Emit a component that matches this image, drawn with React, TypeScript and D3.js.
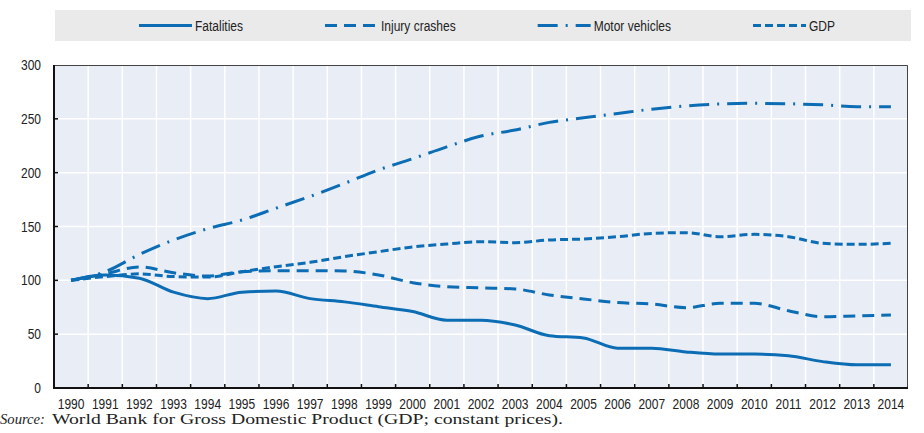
import React, { useEffect, useRef } from 'react';
import * as d3 from 'd3';

const years = d3.range(1990, 2015).map(String);

const fatalities = [100, 105, 102, 89, 83, 89, 90, 83, 80, 75.5, 71, 63, 63, 58.5, 48.6, 46.5, 37, 37, 33.5, 31.5, 31.5, 30, 24.5, 21.5, 21.5];
const injuryCrashes = [100, 106, 112.5, 107, 104, 108, 109, 109, 108.7, 105, 97.8, 94, 93, 92, 86.4, 82.7, 79.3, 78, 74.6, 78.6, 78.6, 71.8, 66.2, 67, 67.8];
const motorVehicles = [100, 108, 124, 137.5, 148, 156, 167, 178, 190, 202.5, 213, 224, 234, 239.6, 246.7, 251, 255, 259, 262, 263.8, 264.4, 264, 263, 261.3, 261.3];
const gdp = [100, 103.5, 106, 103.5, 103, 108, 112.7, 116.7, 122, 126.6, 131, 133.7, 135.9, 135, 137.5, 138.4, 140.5, 143.6, 144.3, 140.5, 142.7, 140.5, 134.4, 133.4, 134.4];

const yTicks = [0, 50, 100, 150, 200, 250, 300];

const seriesNames = ['Fatalities', 'Injury crashes', 'Motor vehicles', 'GDP'];
const seriesValues = [fatalities, injuryCrashes, motorVehicles, gdp];
const dashes = ['none', '12,7', '20,8,2,8', '8,4'];

const BLUE = '#0c6db4';
const SANS = '"Liberation Sans", Arial, sans-serif';
const SQUEEZE = 0.8; // no narrow face installed, so squeeze the regular one

export default function App() {
  const svgRef = useRef<SVGSVGElement>(null);
  const width = 924;
  const height = 433;

  useEffect(() => {
    if (!svgRef.current) return;
    const svg = d3.select(svgRef.current);
    svg.selectAll('*').remove();

    const margin = { top: 65, right: 16, bottom: 45, left: 54 };
    const innerWidth = width - margin.left - margin.right;
    const innerHeight = height - margin.top - margin.bottom;

    const x = d3.scaleBand().domain(years).range([0, innerWidth]);
    const y = d3.scaleLinear().domain([0, 300]).range([innerHeight, 0]);

    // Legend
    const legend = svg.append('g');
    legend.append('rect')
      .attr('x', 55)
      .attr('y', 10)
      .attr('width', 856)
      .attr('height', 31)
      .attr('fill', '#eaeaea');

    const items = legend.append('g');
    let cursor = 0;
    seriesNames.forEach((name, i) => {
      const item = items.append('g').attr('transform', `translate(${cursor},0)`);
      item.append('line')
        .attr('x1', 0)
        .attr('x2', 53)
        .attr('y1', 25.5)
        .attr('y2', 25.5)
        .attr('stroke', BLUE)
        .attr('stroke-width', 3)
        .attr('stroke-dasharray', dashes[i]);
      const label = item.append('text')
        .attr('transform', `translate(56,30.5) scale(${SQUEEZE},1)`)
        .style('font-family', SANS)
        .style('font-size', '15px')
        .style('fill', '#222')
        .text(name);
      const w = (label.node() as SVGTextElement).getComputedTextLength() * SQUEEZE;
      cursor += 56 + w + 82;
    });
    const groupWidth = cursor - 82;
    items.attr('transform', `translate(${487 - groupWidth / 2},0)`);

    const g = svg.append('g')
      .attr('transform', `translate(${margin.left},${margin.top})`);

    // Plot background
    g.append('rect')
      .attr('width', innerWidth)
      .attr('height', innerHeight)
      .attr('fill', '#e9edf6');

    // Grid lines
    g.append('g')
      .selectAll('line')
      .data(years.slice(1))
      .join('line')
      .attr('x1', d => x(d)!)
      .attr('x2', d => x(d)!)
      .attr('y1', 0)
      .attr('y2', innerHeight)
      .attr('stroke', '#fff')
      .attr('stroke-width', 1.5);

    g.append('g')
      .selectAll('line')
      .data(yTicks.slice(1, -1))
      .join('line')
      .attr('x1', 0)
      .attr('x2', innerWidth)
      .attr('y1', d => y(d))
      .attr('y2', d => y(d))
      .attr('stroke', '#fff')
      .attr('stroke-width', 1.5);

    // Frame (top / right)
    g.append('path')
      .attr('d', `M0,0.5H${innerWidth - 0.5}V${innerHeight}`)
      .attr('fill', 'none')
      .attr('stroke', '#444')
      .attr('stroke-width', 1);

    // Lines
    const line = d3.line<number>()
      .x((_, i) => x(years[i])! + x.bandwidth() / 2)
      .y(d => y(d))
      .curve(d3.curveMonotoneX);

    seriesValues.forEach((vals, i) => {
      g.append('path')
        .datum(vals)
        .attr('d', line)
        .attr('fill', 'none')
        .attr('stroke', BLUE)
        .attr('stroke-width', 3)
        .attr('stroke-dasharray', dashes[i]);
    });

    // Axes
    const xAxis = g.append('g').attr('transform', `translate(0,${innerHeight})`);
    xAxis.append('line')
      .attr('x1', -1)
      .attr('x2', innerWidth)
      .attr('stroke', '#111')
      .attr('stroke-width', 2);
    xAxis.selectAll('line.tick')
      .data(years.slice(1))
      .join('line')
      .attr('class', 'tick')
      .attr('x1', d => x(d)!)
      .attr('x2', d => x(d)!)
      .attr('y1', 0)
      .attr('y2', -4)
      .attr('stroke', '#111')
      .attr('stroke-width', 1.5);
    xAxis.selectAll('text')
      .data(years)
      .join('text')
      .attr('transform', d => `translate(${x(d)! + x.bandwidth() / 2},21) scale(${SQUEEZE},1)`)
      .attr('text-anchor', 'middle')
      .style('font-family', SANS)
      .style('font-size', '15px')
      .style('fill', '#222')
      .text(d => d);

    const yAxis = g.append('g');
    yAxis.append('line')
      .attr('y1', 0)
      .attr('y2', innerHeight + 1)
      .attr('stroke', '#111')
      .attr('stroke-width', 2);
    yAxis.selectAll('line.tick')
      .data(yTicks.slice(1, -1))
      .join('line')
      .attr('class', 'tick')
      .attr('x1', 0)
      .attr('x2', 4)
      .attr('y1', d => y(d))
      .attr('y2', d => y(d))
      .attr('stroke', '#111')
      .attr('stroke-width', 1.5);
    yAxis.selectAll('text')
      .data(yTicks)
      .join('text')
      .attr('transform', d => `translate(-13,${y(d) + 5}) scale(${SQUEEZE},1)`)
      .attr('text-anchor', 'end')
      .style('font-family', SANS)
      .style('font-size', '15px')
      .style('fill', '#222')
      .text(d => d);

    // Source note
    const serif = '"Liberation Serif", "DejaVu Serif", serif';
    svg.append('text')
      .attr('x', 0)
      .attr('y', 424)
      .attr('textLength', 45)
      .attr('lengthAdjust', 'spacingAndGlyphs')
      .style('font-family', serif)
      .style('font-style', 'italic')
      .style('font-size', '14px')
      .style('fill', '#222')
      .text('Source:');
    svg.append('text')
      .attr('x', 52)
      .attr('y', 424)
      .attr('textLength', 511)
      .attr('lengthAdjust', 'spacingAndGlyphs')
      .style('font-family', serif)
      .style('font-size', '14px')
      .style('fill', '#222')
      .text('World Bank for Gross Domestic Product (GDP; constant prices).');
  }, []);

  return (
    <div style={{ position: 'absolute', left: 0, top: 0 }}>
      <svg ref={svgRef} width={width} height={height} style={{ display: 'block', background: '#fff' }} />
    </div>
  );
}
